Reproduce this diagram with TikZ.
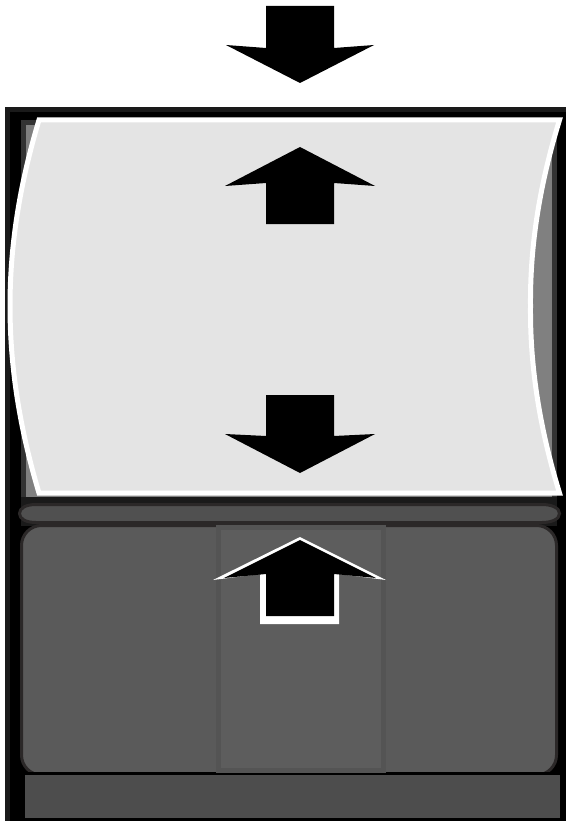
\documentclass[tikz,border=0pt]{standalone}
\definecolor{bandA}{HTML}{1A1A1A}
\definecolor{panelEdge}{HTML}{333333}
\definecolor{panelGray}{HTML}{808080}
\definecolor{sheetFill}{HTML}{E4E4E4}
\definecolor{pillFill}{HTML}{505050}
\definecolor{softEdge}{HTML}{2B2828}
\definecolor{bodyFill}{HTML}{5A5A5A}
\definecolor{baseFill}{HTML}{4D4D4D}
\definecolor{centerFill}{HTML}{5D5D5D}
\definecolor{centerEdge}{HTML}{545454}
\tikzset{
  x=1pt,y=-1pt,
  blockarrow/.style={fill=black,draw=none},
  softshape/.style={draw=softEdge,line width=3pt},
}
\begin{document}
\begin{tikzpicture}
\useasboundingbox (0,0) rectangle (566,821);
% cabinet
\fill[black] (5,107) rectangle (566,821);
\fill[bandA] (5,107) rectangle (566,112);
\fill[bandA] (5,107) rectangle (10,821);
% rear panel
\fill[panelEdge] (21,120) rectangle (557,503);
\fill[panelGray] (26,125) rectangle (552,497);
\fill[bandA] (21,497) rectangle (557,526);
% pill
\draw[softshape,fill=pillFill] (36,504.5) -- (542,504.5)
  .. controls (552,504.5) and (559.5,508) .. (559.5,513.5)
  .. controls (559.5,519) and (552,522.5) .. (542,522.5)
  -- (36,522.5)
  .. controls (26,522.5) and (19.5,519) .. (19.5,513.5)
  .. controls (19.5,508) and (26,504.5) .. (36,504.5) -- cycle;
% body
\draw[softshape,fill=bodyFill,rounded corners=20pt] (21.5,525.5) rectangle (556.5,775);
% base
\fill[black] (20,772) rectangle (566,821);
\fill[baseFill] (25,774.5) rectangle (559.5,818);
% centre panel
\draw[draw=centerEdge,fill=centerFill,line width=5pt] (218.5,527.5) rectangle (383.5,770);
% sheet
\draw[draw=white,fill=sheetFill,line width=5pt,miter limit=10]
  (39,120) -- (559.5,120)
  .. controls (538,190) and (530,250) .. (530.5,306)
  .. controls (530,362) and (538,423) .. (559.5,493)
  -- (39,493)
  .. controls (18,423) and (10,362) .. (10,306)
  .. controls (10,250) and (18,190) .. (39,120) -- cycle;
% arrows
\fill[blockarrow] (266,6) -- (334,6) -- (334,48) -- (374,45) -- (300,83) -- (226,45) -- (266,48) -- cycle;
\fill[blockarrow] (300,147) -- (375,186) -- (334,183) -- (334,224) -- (266,224) -- (266,183) -- (225,186) -- cycle;
\fill[blockarrow] (266,395) -- (334,395) -- (334,436) -- (375,434) -- (300,473) -- (225,434) -- (266,436) -- cycle;
\fill[white] (300,537) -- (386,580) -- (339,574) -- (339,624) -- (260,624) -- (260,574) -- (213,580) -- cycle;
\fill[blockarrow] (300,540) -- (376,578) -- (334,574) -- (334,616) -- (266,616) -- (266,574) -- (224,578) -- cycle;
\end{tikzpicture}
\end{document}
